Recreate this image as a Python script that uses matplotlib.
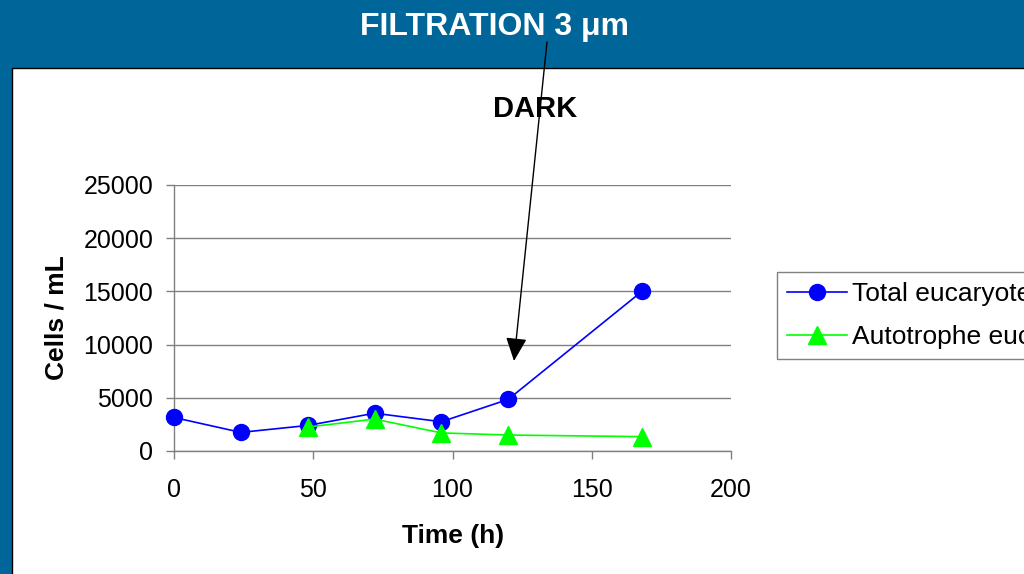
import matplotlib
matplotlib.use("Agg")
import matplotlib.pyplot as plt
from matplotlib.patches import Rectangle, FancyArrowPatch

plt.rcParams['font.family'] = ['Liberation Sans', 'DejaVu Sans']

# ---- data ----
time_total = [0, 24, 48, 72, 96, 120, 168]
total_euk = [3150, 1750, 2400, 3550, 2750, 4850, 15000]
time_auto = [48, 72, 96, 120, 168]
auto_euk = [2250, 3000, 1700, 1500, 1350]
x_ticks = [0, 50, 100, 150, 200]
y_ticks = [0, 5000, 10000, 15000, 20000, 25000]
labels = ["Total eucaryotes", "Autotrophe eucaryotes"]

W, H = 1024, 574
fig = plt.figure(figsize=(W / 100, H / 100), dpi=100, facecolor='#006699')

def fx(px):
    return px / W

def fy(py):
    return 1 - py / H

# white panel
fig.add_artist(Rectangle((fx(12), -0.05), 1.2, fy(68) + 0.05, transform=fig.transFigure,
                         facecolor='white', edgecolor='black', linewidth=1.0, zorder=0))

ax = fig.add_axes([fx(174), fy(451), fx(731) - fx(174), fy(185) - fy(451)])
ax.set_facecolor('none')
ax.set_zorder(2)

l1, = ax.plot(time_total, total_euk, color='#0000FF', lw=1.2, marker='o', markersize=11.5,
              markeredgecolor='#0000FF', markerfacecolor='#0000FF', clip_on=False, zorder=3)
l2, = ax.plot(time_auto, auto_euk, color='#00FF00', lw=1.2, marker='^', markersize=13,
              markeredgecolor='#00FF00', markerfacecolor='#00FF00', clip_on=False, zorder=4)

ax.set_xlim(0, 200)
ax.set_ylim(0, 25000)
ax.set_xticks(x_ticks)
ax.set_yticks(y_ticks)
ax.set_xticklabels([str(v) for v in x_ticks])
ax.set_yticklabels([str(v) for v in y_ticks])
ax.yaxis.grid(True, color='#808080', linewidth=1.0)
ax.set_axisbelow(True)
for s in ['top', 'right']:
    ax.spines[s].set_visible(False)
for s in ['left', 'bottom']:
    ax.spines[s].set_color('#808080')
    ax.spines[s].set_linewidth(1.0)
ax.tick_params(axis='y', direction='out', length=6, width=1.0, color='#808080',
               labelsize=18, pad=9)
ax.tick_params(axis='x', direction='out', length=6, width=1.0, color='#808080',
               labelsize=18, pad=13.5)

# axis labels
fig.text(fx(453), fy(543), "Time (h)", ha='center', va='baseline', fontsize=19,
         fontweight='bold', color='black')
fig.text(fx(56), fy(318), "Cells / mL", ha='center', va='center', rotation=90,
         fontsize=19, fontweight='bold', color='black')

# title and annotation
fig.text(fx(494), fy(35), "FILTRATION 3 μm", ha='center', va='baseline', fontsize=23,
         fontweight='bold', color='white')
fig.text(fx(535), fy(117), "DARK", ha='center', va='baseline', fontsize=21,
         fontweight='bold', color='black')

arrow = FancyArrowPatch((fx(547), fy(42)), (fx(514), fy(361)), transform=fig.transFigure,
                        arrowstyle='-|>,head_length=1.0,head_width=0.45', mutation_scale=14.4,
                        color='black', linewidth=1.0, shrinkA=0, shrinkB=0, zorder=10)
fig.add_artist(arrow)

# legend
leg = fig.legend([l1, l2], labels, loc='upper left', bbox_to_anchor=(fx(777), fy(272)),
                 bbox_transform=fig.transFigure, borderaxespad=0, fontsize=19,
                 frameon=True, fancybox=False, edgecolor='#808080', framealpha=1,
                 handlelength=2.27, handletextpad=0.2, borderpad=0.38, labelspacing=0.73)
leg.get_frame().set_linewidth(1.0)

fig.savefig("out.png", dpi=100, facecolor=fig.get_facecolor())
